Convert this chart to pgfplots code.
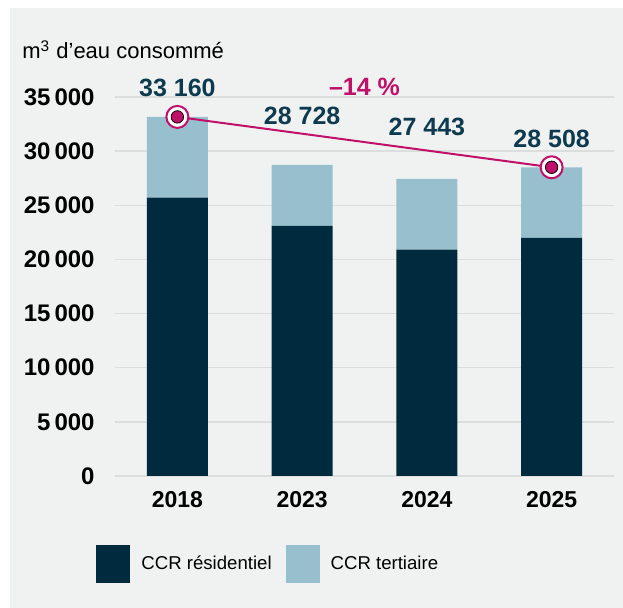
\documentclass[border=0pt]{standalone}
\usepackage{pgfplots}
\pgfplotsset{compat=1.18}
\usepackage{fontspec}
\setmainfont{Liberation Sans}
\definecolor{resid}{HTML}{002B3F}
\definecolor{tert}{HTML}{98BFCD}
\definecolor{mag}{HTML}{C0106A}
\definecolor{labc}{HTML}{0D3A4E}
\definecolor{panel}{HTML}{F0F2F1}
\definecolor{gridc}{HTML}{DCDEDD}
\begin{document}
\begin{tikzpicture}
\useasboundingbox (-57.5pt,-66pt) rectangle (254pt,238pt);
\fill[white] (-57.5pt,-66pt) rectangle (254pt,238pt);
\fill[panel] (-52.5pt,-66pt) rectangle (254pt,234pt);
\pgfplotsset{
  base/.style={
    scale only axis, width=249.5pt, height=189.5pt,
    xmin=-0.5, xmax=3.5, ymin=0, ymax=35000,
  }
}
% bars
\begin{axis}[
  base,
  ybar stacked, bar width=30.5pt,
  axis line style={draw=none}, major tick length=0pt,
  ymajorgrids, grid style={gridc, line width=0.7pt},
  ytick={0,5000,...,35000}, scaled y ticks=false,
  xtick={0,1,2,3}, xticklabels={2018,2023,2024,2025},
  /pgf/number format/.cd, 1000 sep={\,}, assume math mode=true, /pgfplots/.cd,
  yticklabel style={anchor=east, inner sep=0pt, xshift=-10pt, font=\fontsize{12}{14}\selectfont\bfseries},
  xticklabel style={anchor=base, inner sep=0pt, yshift=-16pt, font=\fontsize{11.5}{13}\selectfont\bfseries},
  legend style={at={(-0.038,-0.182)}, anchor=north west, draw=none, fill=none,
    legend columns=2, inner sep=0pt, font=\fontsize{9.3}{11}\selectfont,
    /tikz/every odd column/.append style={column sep=3.5pt},
    /tikz/every even column/.append style={column sep=5pt}},
  legend cell align=left,
]
\addplot[fill=resid, draw=none,
  legend image code/.code={\fill[resid] (0pt,-9.5pt) rectangle (17pt,9.5pt);}]
  coordinates {(0,25700) (1,23100) (2,20900) (3,22000)};
\addplot[fill=tert, draw=none,
  legend image code/.code={\fill[tert] (0pt,-9.5pt) rectangle (17pt,9.5pt);}]
  coordinates {(0,7460) (1,5628) (2,6543) (3,6508)};
\legend{CCR résidentiel, CCR tertiaire}
\end{axis}
% trend line and labels
\begin{axis}[base, hide axis, clip=false]
\addplot[mag, line width=1pt, mark=*, mark size=5.5pt,
  mark options={fill=white, draw=mag, line width=1pt}]
  coordinates {(0,33160) (3,28508)};
\addplot[only marks, mark=*, mark size=3.1pt, mark options={fill=mag, draw=none}]
  coordinates {(0,33160) (3,28508)};
\node[font=\fontsize{12.5}{14}\selectfont\bfseries, text=labc] at (axis cs:0,35831) {33 160};
\node[font=\fontsize{12.5}{14}\selectfont\bfseries, text=labc] at (axis cs:1,33245) {28 728};
\node[font=\fontsize{12.5}{14}\selectfont\bfseries, text=labc] at (axis cs:2,32230) {27 443};
\node[font=\fontsize{12.5}{14}\selectfont\bfseries, text=labc] at (axis cs:3,31121) {28 508};
\node[font=\fontsize{12.5}{14}\selectfont\bfseries, text=mag] at (axis cs:1.5,35923) {–14 \%};
\end{axis}
\node[anchor=base west, inner sep=0pt, font=\fontsize{11}{13}\selectfont] at (-46.5pt,208.5pt) {m\textsuperscript{3} d’eau consommé};
\end{tikzpicture}
\end{document}
